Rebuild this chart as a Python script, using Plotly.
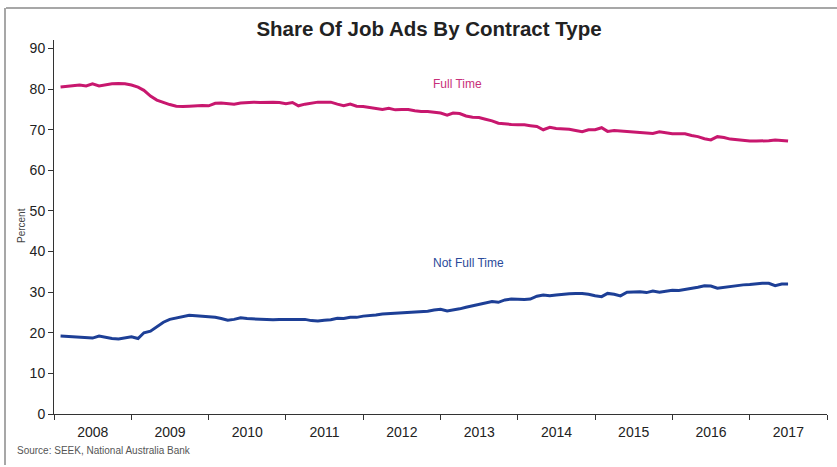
import pandas as pd
import plotly.graph_objects as go

# Monthly share of job ads (percent), Feb 2008 .. Jul 2017
full_time = [
    80.5, 80.7, 80.8, 81.0, 80.8, 81.3, 80.8, 81.1, 81.3, 81.4, 81.3, 81.0,
    80.5, 79.7, 78.3, 77.3, 76.7, 76.2, 75.8, 75.7, 75.8, 75.9, 76.0, 75.9,
    76.5, 76.6, 76.4, 76.3, 76.6, 76.7, 76.8, 76.7, 76.8, 76.8, 76.7, 76.4,
    76.7, 75.9, 76.3, 76.5, 76.8, 76.8, 76.8, 76.3, 75.9, 76.3, 75.8, 75.7,
    75.5, 75.3, 75.0, 75.3, 74.9, 75.0, 75.0, 74.7, 74.5, 74.5, 74.3, 74.1,
    73.6, 74.1, 74.0, 73.4, 73.1, 73.0, 72.6, 72.2, 71.6, 71.4, 71.3, 71.2,
    71.2, 71.0, 70.8, 70.0, 70.6, 70.3, 70.2, 70.1, 69.8, 69.5, 70.0, 70.0,
    70.5, 69.6, 69.8, 69.7, 69.5, 69.4, 69.3, 69.2, 69.1, 69.5, 69.2, 69.0,
    69.0, 69.0, 68.6, 68.3, 67.8, 67.5, 68.3, 68.1, 67.7, 67.5, 67.3, 67.2,
    67.2, 67.2, 67.3, 67.5, 67.4, 67.2,
]
not_full_time = [
    19.2, 19.1, 19.0, 19.0, 18.9, 18.7, 19.2, 18.9, 18.6, 18.5, 18.7, 19.0,
    18.6, 20.0, 20.4, 21.5, 22.6, 23.3, 23.7, 24.0, 24.3, 24.2, 24.1, 24.0,
    23.8, 23.5, 23.1, 23.3, 23.7, 23.5, 23.4, 23.3, 23.2, 23.2, 23.3, 23.3,
    23.4, 23.4, 23.3, 23.0, 22.9, 23.1, 23.2, 23.6, 23.5, 23.8, 23.8, 24.1,
    24.2, 24.4, 24.6, 24.7, 24.8, 24.9, 24.9, 25.0, 25.2, 25.3, 25.6, 25.8,
    25.4, 25.6, 25.9, 26.3, 26.7, 26.9, 27.3, 27.7, 27.5, 28.1, 28.3, 28.2,
    28.2, 28.3, 29.0, 29.3, 29.1, 29.3, 29.5, 29.6, 29.7, 29.7, 29.5, 29.1,
    28.9, 29.7, 29.5, 29.1, 30.0, 30.0, 30.1, 29.9, 30.3, 30.0, 30.2, 30.5,
    30.4, 30.6, 30.9, 31.2, 31.6, 31.5, 31.0, 31.2, 31.4, 31.7, 31.8, 31.9,
    32.1, 32.2, 32.2, 31.6, 32.0, 32.0,
]
start_month = "2008-02-01"
dates = pd.date_range(start_month, periods=len(full_time), freq="MS")

title_text = "Share Of Job Ads By Contract Type"
source_text = "Source: SEEK, National Australia Bank"

FT_COLOR = "#c8176e"
NFT_COLOR = "#1d3f96"
FONT = "Liberation Sans, Arial, sans-serif"

W, H = 837, 467
ML, MR, MT, MB = 54, 10, 40, 53
PW, PH = W - ML - MR, H - MT - MB


def px(x):
    return (x - ML) / PW


def py(y):
    return (H - MB - y) / PH


fig = go.Figure()
fig.add_trace(go.Scatter(x=dates, y=full_time, mode="lines", name="Full Time",
                         line=dict(color=FT_COLOR, width=3)))
fig.add_trace(go.Scatter(x=dates, y=not_full_time, mode="lines", name="Not Full Time",
                         line=dict(color=NFT_COLOR, width=3)))

annotations = [
    dict(text="Full Time", x=px(431), y=py(84), xref="paper", yref="paper",
         xanchor="left", yanchor="middle", showarrow=False,
         font=dict(size=12, color="#c8307a", family=FONT)),
    dict(text="Not Full Time", x=px(431), y=py(263), xref="paper", yref="paper",
         xanchor="left", yanchor="middle", showarrow=False,
         font=dict(size=12, color="#2a4a9a", family=FONT)),
    dict(text="Percent", x=px(21), y=py(226), xref="paper", yref="paper",
         xanchor="center", yanchor="middle", showarrow=False, textangle=-90,
         font=dict(size=10, color="#444", family=FONT)),
    dict(text=source_text, x=px(15), y=py(450), xref="paper", yref="paper",
         xanchor="left", yanchor="middle", showarrow=False,
         font=dict(size=10, color="#555", family=FONT)),
]

shapes = [
    dict(type="line", xref="paper", yref="paper", x0=px(6), x1=px(837),
         y0=py(8), y1=py(8), line=dict(color="#8a8a8a", width=1.5)),
    dict(type="line", xref="paper", yref="paper", x0=px(5), x1=px(5),
         y0=py(8), y1=py(465), line=dict(color="#8a8a8a", width=1.5)),
]

fig.update_layout(
    width=W, height=H,
    margin=dict(l=ML, r=MR, t=MT, b=MB),
    paper_bgcolor="white", plot_bgcolor="white",
    showlegend=False,
    font=dict(family=FONT, color="#222"),
    title=dict(text="<b>" + title_text + "</b>", xref="container", yref="container",
               x=429 / W, y=1 - 29 / H, xanchor="center", yanchor="middle",
               font=dict(size=20.5, color="#222", family=FONT)),
    annotations=annotations,
    shapes=shapes,
    xaxis=dict(
        type="date",
        range=["2008-01-01", "2018-01-01"],
        dtick="M12", tick0="2008-01-01",
        tickformat="%Y", ticklabelmode="period",
        ticks="outside", ticklen=5, tickcolor="#333",
        showline=True, linecolor="#333", linewidth=1,
        showgrid=False, zeroline=False,
        tickfont=dict(size=14, color="#222", family=FONT),
    ),
    yaxis=dict(
        range=[0, 92.1],
        tickvals=[0, 10, 20, 30, 40, 50, 60, 70, 80, 90],
        ticks="outside", ticklen=5, tickcolor="#333",
        showline=True, linecolor="#333", linewidth=1,
        showgrid=False, zeroline=False,
        tickfont=dict(size=14, color="#222", family=FONT),
    ),
)

fig.write_html("out.html")
